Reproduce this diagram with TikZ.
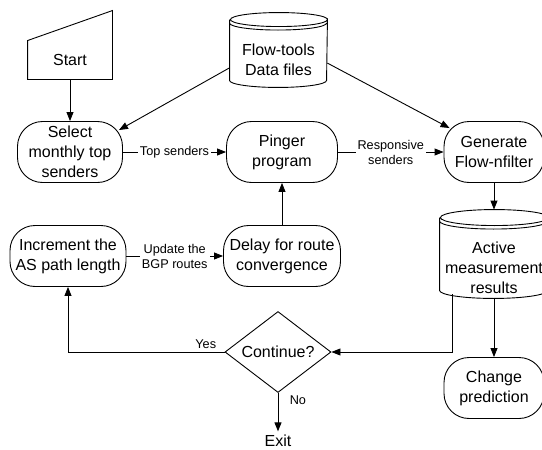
\documentclass[tikz,border=0pt]{standalone}
\usepackage{fontspec}
\setmainfont{Liberation Sans}
\usetikzlibrary{arrows.meta,shapes.geometric,calc}
\begin{document}
\begin{tikzpicture}[x=1pt,y=-1pt,line width=0.9pt,
  >={Triangle[length=9pt,width=7pt]},
  every node/.style={font=\fontsize{16}{20}\selectfont},
  proc/.style={draw,rectangle,rounded corners=25pt,align=center,minimum height=61pt,inner sep=1pt},
  drum/.style={rectangle,inner sep=0pt},
  choice/.style={draw,diamond,aspect=1.3,minimum width=106pt,minimum height=81pt,inner sep=0pt},
  lbl/.style={font=\fontsize{12.7}{15}\selectfont,fill=white,inner sep=2pt,align=center},
  note/.style={font=\fontsize{12.7}{15}\selectfont}]
  \useasboundingbox (0,0) rectangle (542,450);
  \node[minimum width=84pt,minimum height=38pt] (start) at (70,60) {Start};
  \draw (start.south west) -- (start.south east) -- ([yshift=30pt]start.north east) -- (start.north west) -- cycle;
  \node[drum,minimum width=97pt,minimum height=74pt] (flow) at (278.5,50) {};
  \node[align=center] (flowtxt) at (278.5,60) {Flow-tools\\Data files};
  \node[drum,minimum width=108pt,minimum height=88pt] (act) at (494,254) {};
  \node[align=center] (acttxt) at (494,268) {Active\\measurement\\results};
  \foreach \n/\rx/\ry in {flow/48.5/7,act/54/8}
    \draw ([yshift=-\ry pt]\n.north west) -- ([yshift=\ry pt]\n.south west)
      arc[start angle=180,end angle=0,x radius=\rx,y radius=\ry]
      -- ([yshift=-\ry pt]\n.north east)
      arc[start angle=0,end angle=360,x radius=\rx,y radius=\ry]
      ([yshift=-\ry pt-3.5pt]\n.north west)
      arc[start angle=180,end angle=0,x radius=\rx,y radius=\ry];
  \node[proc,minimum width=105pt] (sel) at (70,152) {Select\\monthly top\\senders};
  \node[proc,minimum width=111pt] (ping) at (282,152) {Pinger\\program};
  \node[proc,minimum width=100pt] (gen) at (494,152) {Generate\\Flow-nfilter};
  \node[proc,minimum width=100pt] (chg) at (494,388) {Change\\prediction};
  \node[proc,minimum width=116pt] (inc) at (68,256) {Increment the\\AS path length};
  \node[proc,minimum width=117pt] (delay) at (282,256) {Delay for route\\convergence};
  \node[choice] (cont) at (278,352) {Continue?};
  \node (exit) at (278,441) {Exit};
  \coordinate (turn) at (452,352);
  \draw[->] (start) -- (sel);
  \draw[->] (flow.200) -- ([xshift=-4pt,yshift=-9pt]sel.north east);
  \draw[->] (flow.-15) -- ([xshift=6pt,yshift=-7pt]gen.north west);
  \draw[->] (sel) -- node[lbl] {Top senders} (ping);
  \draw[->] (ping) -- node[lbl] {Responsive\\senders} (gen);
  \draw[->] (gen) -- (act);
  \draw[->] (delay) -- (ping);
  \draw[->] (inc) -- node[lbl] {Update the\\BGP routes} (delay);
  \draw[->] ($(act.south -| turn)+(0,-4)$) -- (turn) -- (cont);
  \draw[->] (act.south -| chg.north) -- (chg);
  \draw[->] (cont) -| node[note,above,pos=0.06] {Yes} (inc);
  \draw[->] (cont) -- node[note,right=8pt,pos=0.2] {No} (exit);
\end{tikzpicture}
\end{document}
